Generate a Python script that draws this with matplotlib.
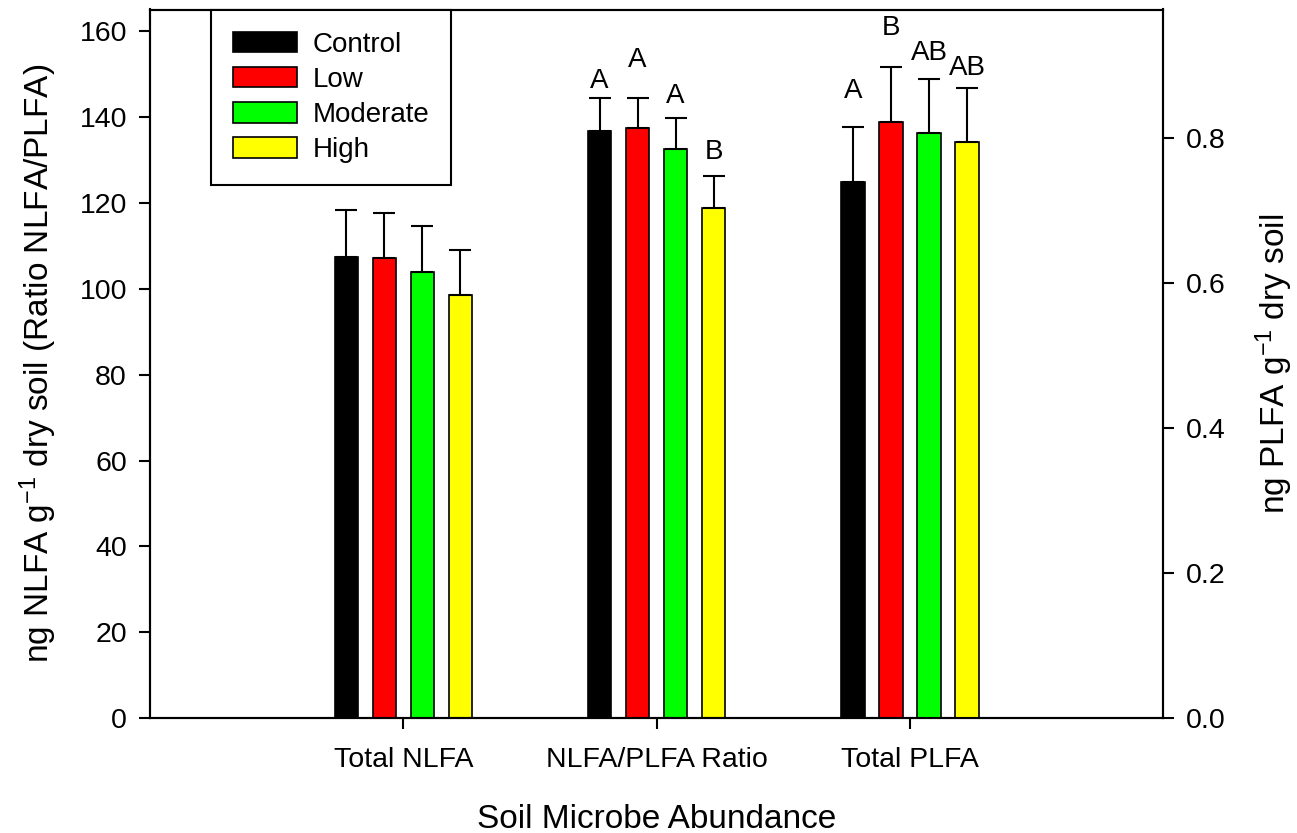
import numpy as np
import matplotlib
matplotlib.use("Agg")
import matplotlib.pyplot as plt

plt.rcParams['font.family'] = ['Liberation Sans', 'DejaVu Sans']
plt.rcParams['mathtext.default'] = 'regular'

# data
categories = ['Total NLFA', 'NLFA/PLFA Ratio', 'Total PLFA']
treatments = ['Control', 'Low', 'Moderate', 'High']
colors = ['#000000', '#ff0000', '#00ff00', '#ffff00']

# left axis groups
nlfa_mean = [107.3, 107.1, 104.0, 98.5]
nlfa_se = [11.0, 10.6, 10.6, 10.5]
ratio_mean = [136.6, 137.5, 132.5, 118.9]
ratio_se = [7.9, 7.0, 7.3, 7.3]
ratio_letters = ['A', 'A', 'A', 'B']
ratio_letter_y = [146.7, 151.6, 143.2, 130.2]

# right axis group
plfa_mean = [0.740, 0.823, 0.807, 0.795]
plfa_se = [0.076, 0.075, 0.075, 0.075]
plfa_letters = ['A', 'B', 'AB', 'AB']
plfa_letter_y = [0.855, 0.9425, 0.908, 0.8873]

x = np.arange(1, len(categories) + 1)
offsets = [-0.225, -0.075, 0.075, 0.225]
width = 0.093

fig = plt.figure(figsize=(12.97, 8.33), dpi=100)
ax = fig.add_axes([150/1297, 1 - 718.3/833, 1013.3/1297, 708.8/833])
ax2 = ax.twinx()

err_kw = dict(ecolor='black', elinewidth=1.5, capsize=8.2, capthick=1.5)
handles = []
for i in range(4):
    b = ax.bar([x[0] + offsets[i], x[1] + offsets[i]], [nlfa_mean[i], ratio_mean[i]], width,
               yerr=[[0, 0], [nlfa_se[i], ratio_se[i]]], color=colors[i],
               edgecolor='black', linewidth=1.2, error_kw=err_kw, label=treatments[i])
    handles.append(b)
    ax2.bar(x[2] + offsets[i], plfa_mean[i], width, yerr=[[0], [plfa_se[i]]],
            color=colors[i], edgecolor='black', linewidth=1.2, error_kw=err_kw)
    ax.text(x[1] + offsets[i], ratio_letter_y[i], ratio_letters[i], ha='center',
            va='baseline', fontsize=20)
    ax2.text(x[2] + offsets[i], plfa_letter_y[i], plfa_letters[i], ha='center',
             va='baseline', fontsize=20)

ax.set_xlim(0, 4)
ax.set_ylim(0, 165)
ax2.set_ylim(0, 0.9777)
ax.set_yticks(np.arange(0, 161, 20))
ax2.set_yticks(np.arange(0, 0.81, 0.2))
ax2.set_yticklabels(['%.1f' % v for v in np.arange(0, 0.81, 0.2)])
ax.set_xticks(x)
ax.set_xticklabels(categories, fontsize=20.5)

for a in (ax, ax2):
    for s in a.spines.values():
        s.set_linewidth(1.5)
    a.tick_params(axis='y', labelsize=20.5, length=7.6, width=1.5, direction='out', pad=9)
ax.tick_params(axis='x', length=8, width=1.5, direction='out', pad=13)

ax.set_ylabel('ng NLFA g$^{-1}$ dry soil (Ratio NLFA/PLFA)', fontsize=24)
ax2.set_ylabel('ng PLFA g$^{-1}$ dry soil', fontsize=24)
ax.set_xlabel('Soil Microbe Abundance', fontsize=24)
ax.yaxis.set_label_coords((38 - 150) / 1013.3, 0.5)
ax.yaxis.label.set_va('center')
ax2.yaxis.set_label_coords((1274 - 150) / 1013.3, 0.5)
ax2.yaxis.label.set_va('center')
ax.xaxis.set_label_coords(0.5, -(820 - 718.3) / 708.8)
ax.xaxis.label.set_va('center')

leg = ax2.legend(handles=handles, labels=treatments, loc='upper left',
                 bbox_to_anchor=(61/1013.3, 1.0), fontsize=20, frameon=True,
                 fancybox=False, edgecolor='black', framealpha=1,
                 handlelength=2.3, handleheight=0.75, handletextpad=0.55,
                 labelspacing=0.33, borderpad=0.8, borderaxespad=0)
leg.get_frame().set_linewidth(1.5)

fig.savefig('out.png', dpi=100)
